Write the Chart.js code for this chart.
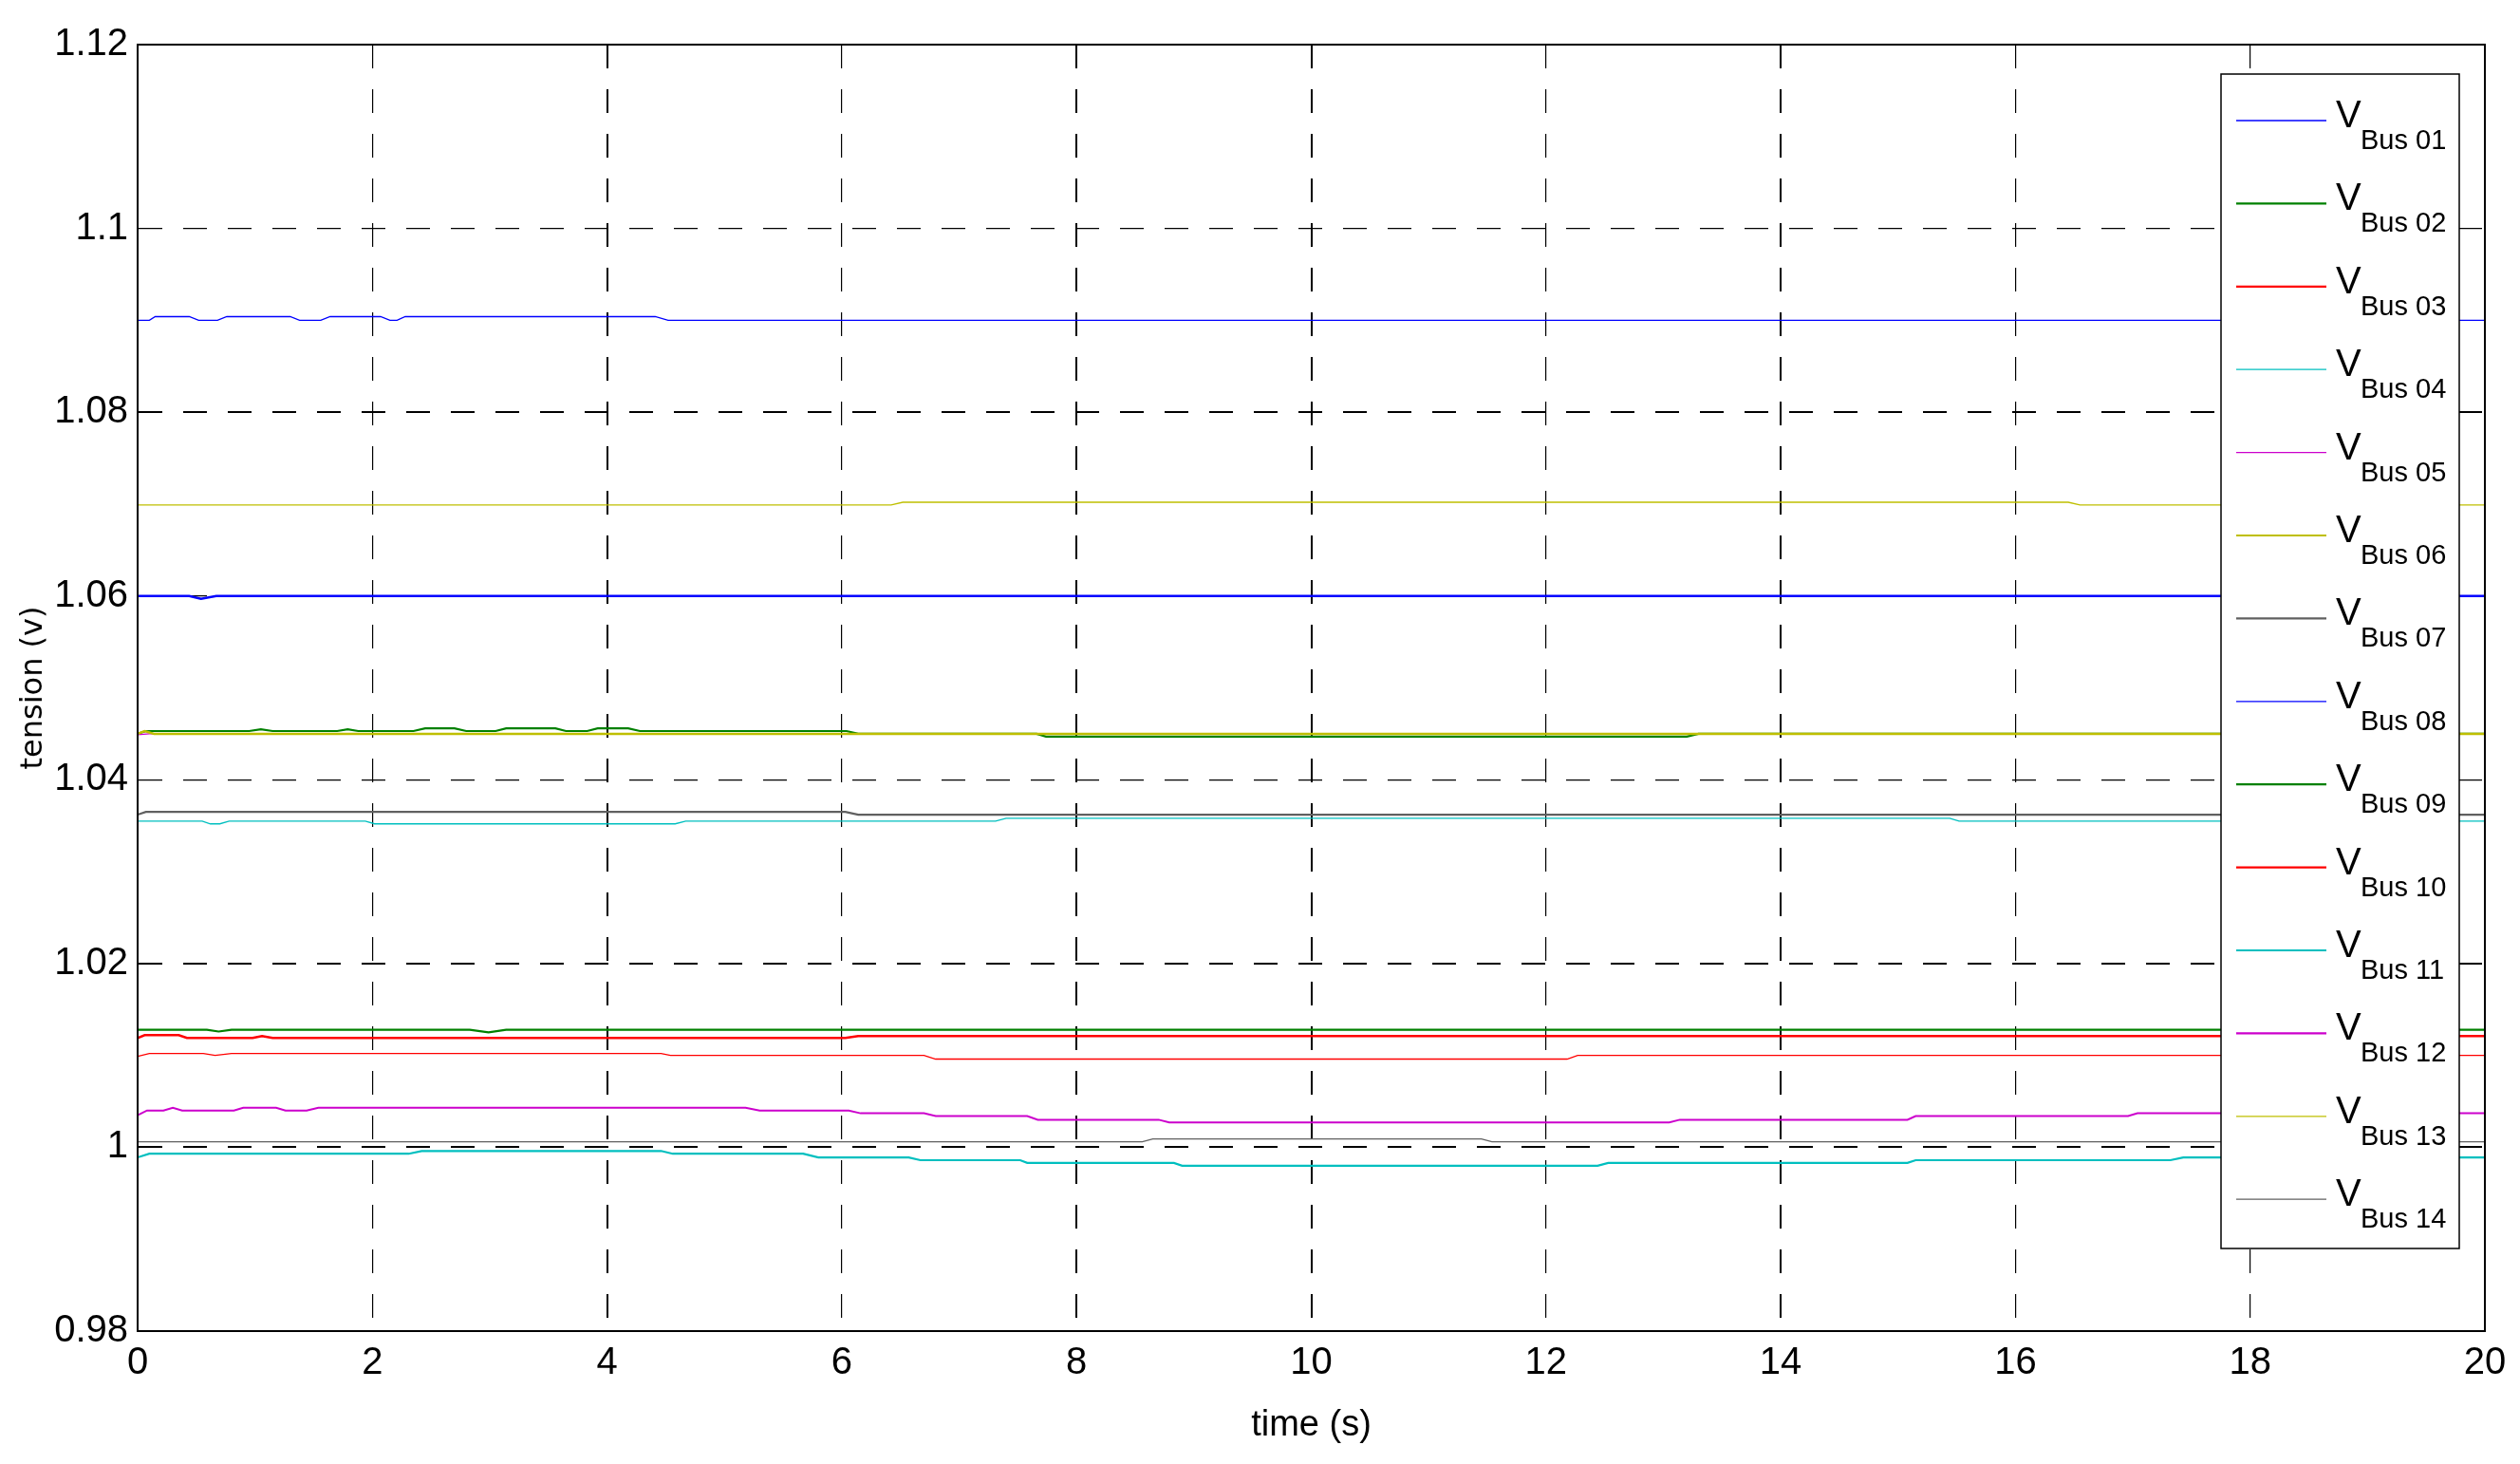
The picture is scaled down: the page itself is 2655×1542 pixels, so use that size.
<!DOCTYPE html>
<html>
<head>
<meta charset="utf-8">
<title>tension des bus</title>
<script src="https://cdn.jsdelivr.net/npm/chart.js@4.4.0/dist/chart.umd.min.js"></script>
<style>
  body { margin: 0; background: #fff; }
  #contenedor { width: 2655px; height: 1542px; }
</style>
</head>
<body>
<div id="contenedor"><canvas id="busChart" width="2655" height="1542"></canvas></div>
<script>
// Etiquetas de la leyenda (subíndice de V)
const busLabels = ['Bus 01', 'Bus 02', 'Bus 03', 'Bus 04', 'Bus 05', 'Bus 06', 'Bus 07',
                   'Bus 08', 'Bus 09', 'Bus 10', 'Bus 11', 'Bus 12', 'Bus 13', 'Bus 14'];

// Marcas de los ejes
const xTicks = [0, 2, 4, 6, 8, 10, 12, 14, 16, 18, 20];
const yTicks = [0.98, 1, 1.02, 1.04, 1.06, 1.08, 1.1, 1.12];

// Tiempo (s) y tensión de cada bus
const bus01T = [0, 0.44, 0.54, 0.67, 20];
const bus01V = [1.0600, 1.0600, 1.0597, 1.0600, 1.0600];

const bus02T = [0, 0.07, 0.95, 1.05, 1.15, 1.7, 1.79, 1.88, 2.35, 2.45, 2.7, 2.8, 3.05, 3.14, 3.56, 3.65,
                3.83, 3.92, 4.18, 4.28, 6.04, 6.14, 7.66, 7.74, 13.2, 13.3, 20];
const bus02V = [1.0450, 1.0453, 1.0453, 1.0455, 1.0453, 1.0453, 1.0455, 1.0453, 1.0453, 1.0456, 1.0456, 1.0453,
                1.0453, 1.0456, 1.0456, 1.0453, 1.0453, 1.0456, 1.0456, 1.0453, 1.0453, 1.0450, 1.0450, 1.0447,
                1.0447, 1.0450, 1.0450];

const bus03T = [0, 0.06, 0.35, 0.42, 0.98, 1.06, 1.15, 6.03, 6.14, 20];
const bus03V = [1.0119, 1.0122, 1.0122, 1.0119, 1.0119, 1.0121, 1.0119, 1.0119, 1.0121, 1.0121];

const bus04T = [0, 0.55, 0.62, 0.7, 0.78, 1.94, 2.02, 4.58, 4.67, 7.31, 7.4, 15.44, 15.52, 20];
const bus04V = [1.0355, 1.0355, 1.0352, 1.0352, 1.0355, 1.0355, 1.0352, 1.0352, 1.0355, 1.0355, 1.0358,
                1.0358, 1.0355, 1.0355];

const bus05T = [0, 0.1, 20];
const bus05V = [1.0449, 1.0450, 1.0450];

const bus06T = [0, 0.06, 0.14, 20];
const bus06V = [1.0450, 1.0453, 1.0450, 1.0450];

const bus07T = [0, 0.07, 6.03, 6.14, 20];
const bus07V = [1.0362, 1.0365, 1.0365, 1.0362, 1.0362];

const bus08T = [0, 0.1, 0.15, 0.44, 0.52, 0.68, 0.76, 1.3, 1.38, 1.56, 1.64, 2.07, 2.15, 2.21, 2.28, 4.41, 4.52, 20];
const bus08V = [1.0900, 1.0900, 1.0904, 1.0904, 1.0900, 1.0900, 1.0904, 1.0904, 1.0900, 1.0900, 1.0904,
                1.0904, 1.0900, 1.0900, 1.0904, 1.0904, 1.0900, 1.0900];

const bus09T = [0, 0.59, 0.69, 0.8, 2.83, 2.99, 3.14, 20];
const bus09V = [1.0128, 1.0128, 1.0126, 1.0128, 1.0128, 1.0125, 1.0128, 1.0128];

const bus10T = [0, 0.1, 0.56, 0.66, 0.8, 4.46, 4.54, 6.7, 6.8, 12.18, 12.27, 20];
const bus10V = [1.0099, 1.0102, 1.0102, 1.0100, 1.0102, 1.0102, 1.0100, 1.0100, 1.0096, 1.0096, 1.0100, 1.0100];

const bus11T = [0, 0.1, 2.31, 2.42, 4.46, 4.56, 5.67, 5.8, 6.57, 6.67, 7.52, 7.58, 8.83, 8.9, 12.44, 12.53,
                15.08, 15.15, 17.32, 17.43, 20];
const bus11V = [0.9989, 0.9993, 0.9993, 0.9996, 0.9996, 0.9993, 0.9993, 0.9989, 0.9989, 0.9986, 0.9986,
                0.9983, 0.9983, 0.9980, 0.9980, 0.9983, 0.9983, 0.9986, 0.9986, 0.9989, 0.9989];

const bus12T = [0, 0.08, 0.22, 0.3, 0.38, 0.82, 0.9, 1.18, 1.26, 1.44, 1.54, 5.18, 5.3, 6.06, 6.16, 6.7, 6.8,
                7.58, 7.67, 8.7, 8.79, 13.05, 13.14, 15.08, 15.15, 16.96, 17.04, 20];
const bus12V = [1.0035, 1.0040, 1.0040, 1.0043, 1.0040, 1.0040, 1.0043, 1.0043, 1.0040, 1.0040, 1.0043,
                1.0043, 1.0040, 1.0040, 1.0037, 1.0037, 1.0034, 1.0034, 1.0030, 1.0030, 1.0027, 1.0027,
                1.0030, 1.0030, 1.0034, 1.0034, 1.0037, 1.0037];

const bus13T = [0, 6.42, 6.52, 16.45, 16.55, 20];
const bus13V = [1.0699, 1.0699, 1.0702, 1.0702, 1.0699, 1.0699];

const bus14T = [0, 8.56, 8.65, 11.45, 11.54, 20];
const bus14V = [1.0006, 1.0006, 1.0009, 1.0009, 1.0006, 1.0006];

const seriesT = [bus01T, bus02T, bus03T, bus04T, bus05T, bus06T, bus07T,
                 bus08T, bus09T, bus10T, bus11T, bus12T, bus13T, bus14T];
const seriesV = [bus01V, bus02V, bus03V, bus04V, bus05V, bus06V, bus07V,
                 bus08V, bus09V, bus10V, bus11V, bus12V, bus13V, bus14V];

// Estilos (colores MATLAB b g r c m y k)
const busColors = ['rgb(0,0,255)', 'rgb(0,128,0)', 'rgb(255,0,0)', 'rgb(0,191,191)', 'rgb(204,0,204)',
                   'rgb(191,191,0)', 'rgb(96,96,96)', 'rgb(0,0,255)', 'rgb(0,128,0)', 'rgb(255,0,0)',
                   'rgb(0,191,191)', 'rgb(204,0,204)', 'rgb(191,191,0)', 'rgb(96,96,96)'];
const lineWidths = [2.5, 2.2, 2.5, 1.3, 1.3, 2.5, 2.2, 1.3, 2.2, 1.3, 2.2, 2.0, 1.3, 1.3];
const legendWidths = [1.3, 2.2, 2.2, 1.3, 1.3, 2.2, 2.2, 1.3, 2.2, 2.2, 2.2, 2.2, 1.3, 1.3];
const gridBoldX = [4, 8, 10, 14];
const gridBoldY = [1.08, 1.02, 1];

const fuente = "'Liberation Sans', Arial, sans-serif";

const datasets = busLabels.map((lab, i) => ({
    label: lab,
    data: seriesT[i].map((t, k) => ({ x: t, y: seriesV[i][k] })),
    borderColor: busColors[i],
    backgroundColor: busColors[i],
    borderWidth: lineWidths[i],
    pointRadius: 0,
    tension: 0,
    fill: false,
    order: busLabels.length - i   // el último bus queda encima, como en MATLAB
}));

// Leyenda dentro del gráfico, con V y subíndice
const leyendaBus = {
    id: 'leyendaBus',
    afterDatasetsDraw(chart) {
        const ctx = chart.ctx;
        const area = chart.chartArea;
        const x0 = area.right - 278, y0 = area.top + 31, w = 251, h = 1237;
        ctx.save();
        ctx.fillStyle = '#fff';
        ctx.fillRect(x0, y0, w, h);
        ctx.lineWidth = 1.5;
        ctx.strokeStyle = '#000';
        ctx.strokeRect(x0, y0, w, h);
        busLabels.forEach((lab, i) => {
            const y = y0 + 49 + i * 87.4;
            ctx.beginPath();
            ctx.strokeStyle = busColors[i];
            ctx.lineWidth = legendWidths[i];
            ctx.moveTo(x0 + 16, y);
            ctx.lineTo(x0 + 111, y);
            ctx.stroke();
            ctx.fillStyle = '#000';
            ctx.textAlign = 'left';
            ctx.textBaseline = 'alphabetic';
            ctx.font = '40px ' + fuente;
            ctx.fillText('V', x0 + 121, y + 7);
            ctx.font = '29px ' + fuente;
            ctx.fillText(lab, x0 + 147, y + 30);
        });
        // marco superior y derecho de los ejes
        ctx.strokeStyle = '#000';
        ctx.lineWidth = 2;
        ctx.strokeRect(area.left, area.top, area.right - area.left, area.bottom - area.top);
        ctx.restore();
    }
};

const ctx = document.getElementById('busChart').getContext('2d');

const busChart = new Chart(ctx, {
    type: 'line',
    data: { datasets: datasets },
    options: {
        responsive: false,
        animation: false,
        layout: { padding: { left: 0, top: 47, right: 37, bottom: 0 } },
        plugins: {
            legend: { display: false },
            tooltip: { enabled: false }
        },
        scales: {
            x: {
                type: 'linear',
                min: 0,
                max: 20,
                afterBuildTicks: axis => { axis.ticks = xTicks.map(v => ({ value: v })); },
                afterFit: axis => { axis.height = 140; },
                ticks: {
                    color: '#000',
                    padding: 10,
                    maxRotation: 0,
                    font: { family: fuente, size: 40 },
                    callback: v => String(v)
                },
                grid: {
                    color: '#000',
                    drawTicks: false,
                    lineWidth: c => (c.tick.value === 0 || c.tick.value === 20) ? 0 :
                        (gridBoldX.includes(c.tick.value) ? 2 : 1.2)
                },
                border: { display: true, color: '#000', width: 2, dash: [25, 22] },
                title: {
                    display: true,
                    text: 'time (s)',
                    color: '#000',
                    font: { family: fuente, size: 38 },
                    padding: { top: 0, bottom: 18 }
                }
            },
            y: {
                type: 'linear',
                min: 0.98,
                max: 1.12,
                afterBuildTicks: axis => { axis.ticks = yTicks.map(v => ({ value: v })); },
                afterFit: axis => { axis.width = 145; },
                ticks: {
                    color: '#000',
                    padding: 10,
                    font: { family: fuente, size: 40 },
                    callback: v => String(+v.toFixed(2))
                },
                grid: {
                    color: '#000',
                    drawTicks: false,
                    lineWidth: c => (c.tick.value === 0.98 || c.tick.value === 1.12) ? 0 :
                        (gridBoldY.includes(c.tick.value) ? 2 : 1.2)
                },
                border: { display: true, color: '#000', width: 2, dash: [25, 22] },
                title: {
                    display: true,
                    text: 'tension (v)',
                    color: '#000',
                    font: { family: "'DejaVu Sans', sans-serif", size: 32 },
                    padding: { top: 16, bottom: 0 }
                }
            }
        }
    },
    plugins: [leyendaBus]
});
</script>
</body>
</html>
